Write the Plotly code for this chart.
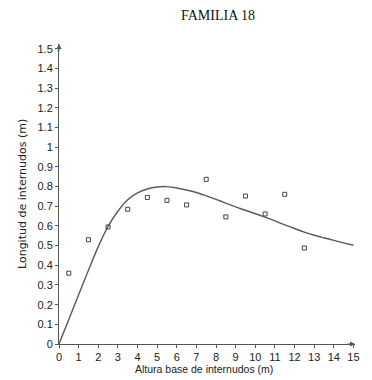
import plotly.graph_objects as go

# Observed internode lengths by base height
obs_x = [0.5, 1.5, 2.5, 3.5, 4.5, 5.5, 6.5, 7.5, 8.5, 9.5, 10.5, 11.5, 12.5]
obs_y = [0.36, 0.53, 0.595, 0.685, 0.745, 0.73, 0.707, 0.837, 0.646, 0.752, 0.661, 0.761, 0.488]

# Fitted curve
fit_x = [0, 0.5, 1, 1.5, 2, 2.5, 3, 3.5, 4, 4.5, 5, 5.5, 6, 6.5, 7, 7.5, 8,
         8.5, 9, 9.5, 10, 10.5, 11, 11.5, 12, 12.5, 13, 13.5, 14, 14.5, 15]
fit_y = [0, 0.125, 0.25, 0.375, 0.495, 0.598, 0.675, 0.733, 0.768, 0.788, 0.798,
         0.80, 0.793, 0.783, 0.77, 0.753, 0.735, 0.716, 0.697, 0.68, 0.662,
         0.645, 0.626, 0.606, 0.587, 0.569, 0.553, 0.54, 0.527, 0.514, 0.502]

x_ticks = list(range(0, 16))
y_ticks = [i / 10 for i in range(0, 16)]
y_tick_text = ["0", "0.1", "0.2", "0.3", "0.4", "0.5", "0.6", "0.7", "0.8", "0.9",
               "1", "1.1", "1.2", "1.3", "1.4", "1.5"]

axis_col = "#555555"
tick_font = dict(family="Liberation Sans, Arial, sans-serif", size=11, color="#222222")

fig = go.Figure()
fig.add_trace(go.Scatter(x=fit_x, y=fit_y, mode="lines",
                         line=dict(color="#5a5a5a", width=1.4, shape="spline", smoothing=0.8),
                         hoverinfo="skip"))
fig.add_trace(go.Scatter(x=obs_x, y=obs_y, mode="markers",
                         marker=dict(symbol="square-open", size=4, color="#444444",
                                     line=dict(width=1, color="#444444"))))

fig.update_layout(
    width=372, height=380,
    margin=dict(l=59, r=14, t=44, b=36),
    paper_bgcolor="white", plot_bgcolor="white",
    showlegend=False,
    title=dict(text="FAMILIA 18", x=218 / 372, y=1 - 15 / 380,
               xref="container", yref="container",
               xanchor="center", yanchor="middle",
               font=dict(family="Liberation Serif, Times New Roman, serif",
                         size=14, color="#111111")),
    xaxis=dict(range=[0, 15.08], tickvals=x_ticks, ticks="outside", ticklen=3,
               tickcolor=axis_col, showline=True, linecolor=axis_col, linewidth=1,
               showgrid=False, zeroline=False, tickfont=tick_font),
    yaxis=dict(range=[0, 1.525], tickvals=y_ticks, ticktext=y_tick_text,
               ticks="outside", ticklen=3, tickcolor=axis_col,
               showline=True, linecolor=axis_col, linewidth=1,
               showgrid=False, zeroline=False, tickfont=tick_font),
)

# Axis arrowheads
fig.add_annotation(x=15.08, y=0, xref="x", yref="y", ax=-9, ay=0, text="",
                   showarrow=True, arrowhead=2, arrowsize=1, arrowwidth=1,
                   arrowcolor=axis_col)
fig.add_annotation(x=0, y=1.525, xref="x", yref="y", ax=0, ay=9, text="",
                   showarrow=True, arrowhead=2, arrowsize=1, arrowwidth=1,
                   arrowcolor=axis_col)

# Axis titles
fig.add_annotation(text="Altura base de internudos (m)", x=0.49, y=0,
                   xref="paper", yref="paper", xanchor="center", yanchor="middle",
                   yshift=-25, showarrow=False,
                   font=dict(family="Liberation Sans, Arial, sans-serif", size=10.5,
                             color="#222222"))
fig.add_annotation(text="Longitud de internudos (m)", x=0, y=0.5,
                   xref="paper", yref="paper", xanchor="center", yanchor="middle",
                   xshift=-37, textangle=-90, showarrow=False,
                   font=dict(family="DejaVu Sans, sans-serif", size=11, color="#222222"))

fig.write_html("out.html")
